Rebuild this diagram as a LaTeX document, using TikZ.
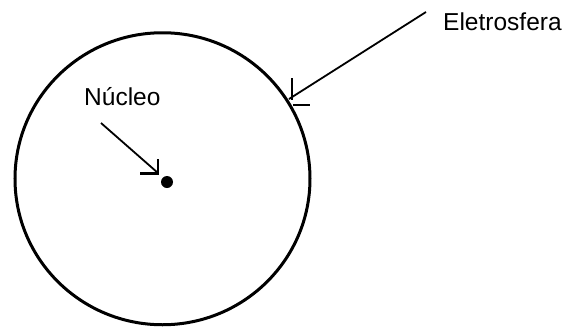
\documentclass[tikz,border=0pt]{standalone}
\usepackage{fontspec}
\setmainfont{Liberation Sans}
\begin{document}
\begin{tikzpicture}[x=1pt,y=-1pt,
  lbl/.style={inner sep=0pt, anchor=base west, font=\fontsize{24.5}{28}\selectfont},
  shaft/.style={line width=1.8pt},
  head/.style={line width=2.6pt},
  ring/.style={line width=3pt}]
\useasboundingbox (0,0) rectangle (566,327);
% electrosphere
\draw[ring] (162.5,178.75) ellipse [x radius=147.5, y radius=146];
% nucleus
\node[circle, fill=black, inner sep=0pt, minimum size=12pt] (nucleus) at (167,182) {};
% labels
\node[lbl] (lblN) at (84,105.5) {Núcleo};
\node[lbl] (lblE) at (443,30) {Eletrosfera};
% arrow to nucleus
\coordinate (nS) at (101,123);
\coordinate (nT) at (158,173);
\coordinate (nH1) at (140,173.5);
\coordinate (nH2) at (158,159);
\draw[shaft] (nS) -- (nT);
\draw[head] (nH1) -- (158,173.5) -- (nH2);
% arrow to electrosphere
\coordinate (eS) at (426,12);
\coordinate (eT) at (289,99);
\coordinate (eV1) at (292,78);
\coordinate (eV2) at (292,100);
\coordinate (eH1) at (293,105);
\coordinate (eH2) at (310,105);
\draw[shaft] (eS) -- (eT);
\draw[head] (eV1) -- (eV2);
\draw[head] (eH1) -- (eH2);
\end{tikzpicture}
\end{document}
